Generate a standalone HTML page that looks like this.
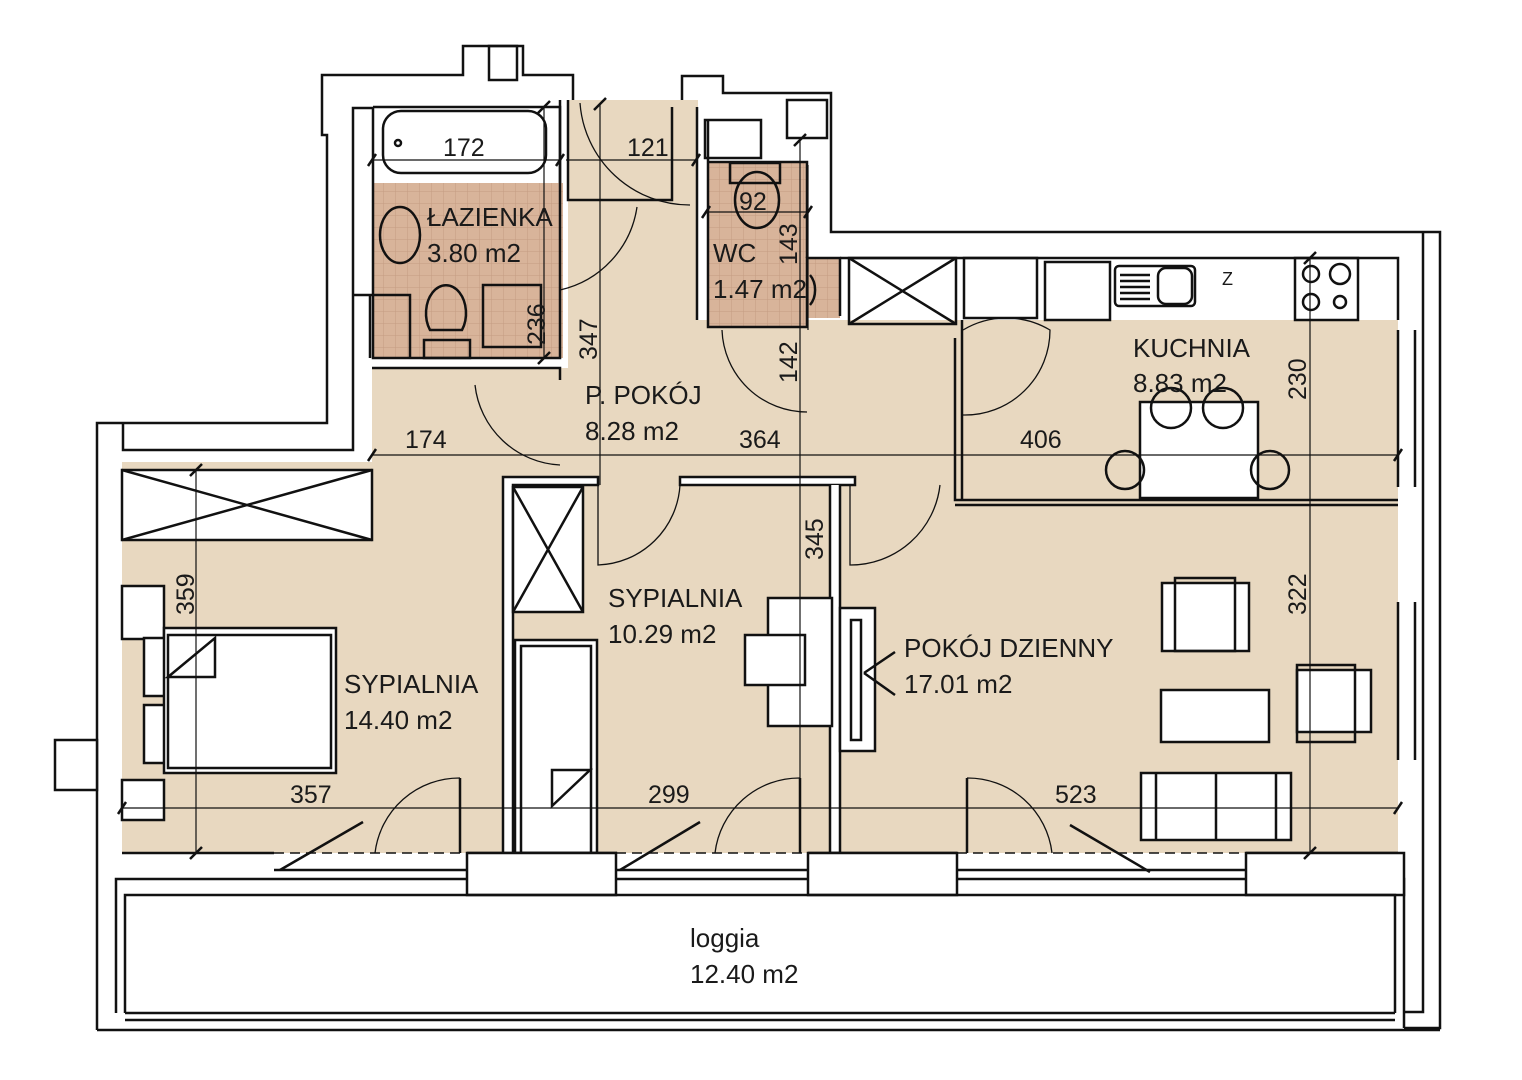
<!DOCTYPE html>
<html><head><meta charset="utf-8"><style>
html,body{margin:0;padding:0;background:#fff;}
svg{display:block;}
text{font-family:"Liberation Sans",sans-serif;fill:#1a1a1a;}
.lbl{font-size:26px;}
.dim{font-size:25px;}
</style></head><body>
<svg width="1522" height="1080" viewBox="0 0 1522 1080" xmlns="http://www.w3.org/2000/svg">
<defs>
<pattern id="tile" width="12" height="12" patternUnits="userSpaceOnUse">
<rect width="12" height="12" fill="#d8b49a"/>
<path d="M12 0V12M0 12H12" stroke="#c49c82" stroke-width="1"/>
</pattern>
</defs>
<g fill="#e8d8c0">
<rect x="122" y="462" width="1276" height="391"/>
<rect x="372" y="368" width="590" height="105"/>
<rect x="568" y="100" width="130" height="280"/>
<rect x="697" y="320" width="265" height="160"/>
<rect x="962" y="320" width="436" height="185"/>
</g>
<rect x="373" y="183" width="190" height="175" fill="url(#tile)"/>
<rect x="708" y="162" width="99" height="165" fill="url(#tile)"/>
<rect x="806" y="258" width="34" height="60" fill="url(#tile)"/>
<g fill="none" stroke="#111" stroke-width="2.5">
<path d="M97 1030V423H327V135H322V75H463V46H523V75H573V100"/>
<path d="M123 423V450H353V108H373"/>
<rect x="489" y="46" width="28" height="34"/>
<path d="M55 740H97V790H55Z" fill="#fff"/>
<path d="M373 107V358H560V183"/>
<path d="M373 107H560V183"/>
<path d="M372 368H560V380"/>
<path d="M560 100V183" />
<path d="M568 100V200H672V107"/>
<path d="M697 107V320"/>
<path d="M682 100V76H723V93H831V232H1440V1028H1404"/>
<path d="M708 120V327H807V258H840V316"/>
<path d="M708 162H807V258"/>
<rect x="705" y="120" width="56" height="38"/>
<rect x="787" y="100" width="40" height="38"/>
<path d="M840 258H1398V320"/>
<path d="M1423 232V1012H1405"/>
<rect x="849" y="258" width="107" height="66"/>
<path d="M849 258L956 324M956 258L849 324"/>
<rect x="964" y="258" width="73" height="60"/>
<rect x="1045" y="262" width="65" height="58"/>
<rect x="1115" y="266" width="80" height="40" rx="4"/>
<rect x="1158" y="268" width="34" height="36" rx="8"/>
<path d="M1120 275H1150M1120 281H1150M1120 287H1150M1120 293H1150M1120 299H1150"/>
<rect x="1295" y="258" width="63" height="62"/>
<circle cx="1311" cy="274" r="8"/><circle cx="1340" cy="274" r="10"/>
<circle cx="1311" cy="302" r="8"/><circle cx="1340" cy="302" r="6"/>
<path d="M962 320V500H1398M955 338V500H962M955 505H1398"/>
<path d="M1398 330V487M1415 330V487M1398 602V760M1415 602V760"/>
<rect x="1140" y="402" width="118" height="96" fill="#fff"/>
<circle cx="1171" cy="408" r="20" fill="none"/><circle cx="1223" cy="408" r="20"/>
<circle cx="1125" cy="470" r="19"/><circle cx="1270" cy="470" r="19"/>
<rect x="122" y="470" width="250" height="70" fill="#fff"/>
<path d="M122 470L372 540M372 470L122 540"/>
<rect x="122" y="586" width="42" height="53" fill="#fff"/>
<rect x="122" y="780" width="42" height="40" fill="#fff"/>
<rect x="144" y="638" width="30" height="58" fill="#fff"/>
<rect x="144" y="705" width="30" height="58" fill="#fff"/>
<rect x="164" y="628" width="172" height="145" fill="#fff"/>
<rect x="168" y="635" width="163" height="133"/>
<path d="M168 677L215 638V677Z"/>
<path d="M503 853V477H598V485H513V853M503 477" fill="#fff"/>
<path d="M680 477H855V485H680Z" fill="#fff"/>
<path d="M830 485V853H840V485" fill="#fff"/>
<rect x="513" y="487" width="70" height="125" fill="#fff"/>
<path d="M513 487L583 612M583 487L513 612"/>
<rect x="515" y="640" width="82" height="213" fill="#fff"/>
<rect x="521" y="646" width="70" height="207"/>
<path d="M552 770H590L552 806Z" fill="#fff"/>
<rect x="768" y="598" width="64" height="128" fill="#fff"/>
<rect x="745" y="635" width="60" height="50" fill="#fff"/>
<rect x="840" y="608" width="35" height="143" fill="#fff"/>
<rect x="851" y="620" width="10" height="120"/>
<path d="M864 673L895 652M864 673L895 695"/>
<rect x="1162" y="583" width="87" height="68" fill="#fff"/>
<rect x="1175" y="578" width="60" height="73"/>
<rect x="1161" y="690" width="108" height="52" fill="#fff"/>
<rect x="1297" y="670" width="74" height="62" fill="#fff"/>
<rect x="1297" y="665" width="58" height="77"/>
<rect x="1141" y="773" width="150" height="67" fill="#fff"/>
<path d="M1156 773V840M1216 773V840M1276 773V840"/>
<path d="M122 853H274M467 853H617M808 853H957M1246 853H1398"/>
<path d="M116 1013V879H274M1246 879H1404V1028"/>
<rect x="274" y="853" width="193" height="42" fill="#fff" stroke="none"/>
<rect x="467" y="853" width="149" height="42" fill="#fff"/>
<rect x="808" y="853" width="149" height="42" fill="#fff"/>
<rect x="1246" y="853" width="158" height="42" fill="#fff"/>
<path d="M274 870H467M274 879H467M616 870H808M616 879H808M957 870H1246M957 879H1246"/>
<path d="M274 853H467M616 853H808M957 853H1246M274 895H467M616 895H808M957 895H1246" stroke-dasharray="10 6" stroke-width="1.5"/>
<path d="M125 1013V895H1395V1013"/>
<path d="M97 1030H1440M125 1013H1395M125 1020H1395"/>
<path d="M280 870L363 822M620 870L700 822M1070 825L1150 872"/>
<path d="M460 778V853M800 778V853M967 778V853"/>
<path d="M460 778A85 85 0 0 0 375 853M800 778A85 85 0 0 0 715 853M967 778A85 85 0 0 1 1052 853" stroke-width="1.3"/>
<path d="M580 103A110 110 0 0 0 690 205M637 207A100 100 0 0 1 560 290M475 385A90 90 0 0 0 560 465M722 330A85 85 0 0 0 807 412M963 330A85 85 0 0 1 1050 330A85 85 0 0 1 963 415M598 485V565A85 85 0 0 0 680 485M850 485V565A90 90 0 0 0 940 485" stroke-width="1.3"/>
<rect x="383" y="111" width="163" height="62" rx="18"/>
<circle cx="398" cy="143" r="3"/>
<ellipse cx="400" cy="235" rx="20" ry="28"/>
<path d="M353 295H410V358M370 295V358"/>
<path d="M430 330A20 28 0 1 1 462 330ZM424 340H470V358H424Z"/>
<rect x="483" y="285" width="58" height="62"/>
<ellipse cx="757" cy="200" rx="22" ry="28"/>
<rect x="730" y="163" width="50" height="20"/>
<path d="M810 275A15 20 0 0 1 810 305"/>
</g>
<g stroke="#111" stroke-width="1.2" fill="none">
<path d="M372 160H560M566 160H697M706 212H808M372 455H1398M122 808H1398M196 470V853M600 104V485M800 140V853M1310 258V853M544 107V358"/>
<path d="M808 165V330" />
</g>
<g stroke="#111" stroke-width="2.5">
<path d="M368 166L376 154M556 166L564 154M692 166L700 154M702 218L710 206M804 218L812 206M368 461L376 449M1394 461L1402 449M118 814L126 802M1394 814L1402 802M190 476L202 464M190 859L202 847M594 110L606 98M794 146L806 134M1304 264L1316 252M1304 859L1316 847M538 113L550 101M538 364L550 352"/>
</g>
<text class="lbl" x="427" y="226">ŁAZIENKA</text>
<text class="lbl" x="427" y="262">3.80 m2</text>
<text class="lbl" x="713" y="262">WC</text>
<text class="lbl" x="713" y="298">1.47 m2</text>
<text class="lbl" x="585" y="404">P. POKÓJ</text>
<text class="lbl" x="585" y="440">8.28 m2</text>
<text class="lbl" x="1133" y="357">KUCHNIA</text>
<text class="lbl" x="1133" y="392">8.83 m2</text>
<text class="lbl" x="608" y="607">SYPIALNIA</text>
<text class="lbl" x="608" y="643">10.29 m2</text>
<text class="lbl" x="344" y="693">SYPIALNIA</text>
<text class="lbl" x="344" y="729">14.40 m2</text>
<text class="lbl" x="904" y="657">POKÓJ DZIENNY</text>
<text class="lbl" x="904" y="693">17.01 m2</text>
<text class="lbl" x="690" y="947">loggia</text>
<text class="lbl" x="690" y="983">12.40 m2</text>
<text x="1222" y="285" font-size="18">Z</text>
<g class="dim">
<text x="443" y="156">172</text>
<text x="627" y="156">121</text>
<text x="739" y="210">92</text>
<text x="405" y="448">174</text>
<text x="739" y="448">364</text>
<text x="1020" y="448">406</text>
<text x="290" y="803">357</text>
<text x="648" y="803">299</text>
<text x="1055" y="803">523</text>
<text transform="translate(545 345) rotate(-90)">236</text>
<text transform="translate(597 360) rotate(-90)">347</text>
<text transform="translate(797 265) rotate(-90)">143</text>
<text transform="translate(797 383) rotate(-90)">142</text>
<text transform="translate(823 560) rotate(-90)">345</text>
<text transform="translate(1306 400) rotate(-90)">230</text>
<text transform="translate(1306 615) rotate(-90)">322</text>
<text transform="translate(194 615) rotate(-90)">359</text>
</g>
</svg>
</body></html>
